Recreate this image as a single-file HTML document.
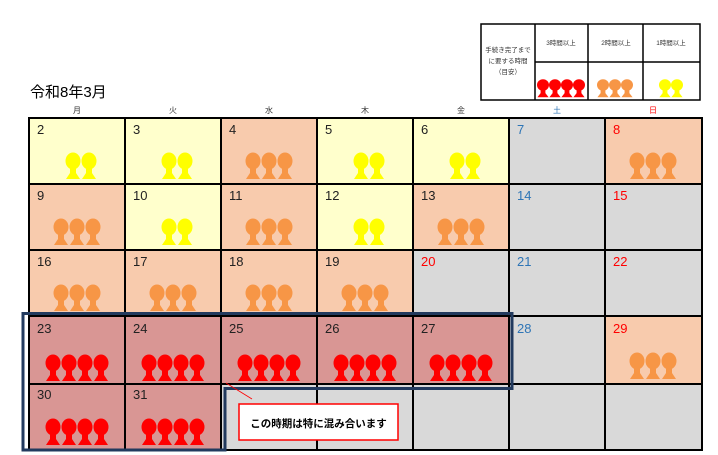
<!DOCTYPE html>
<html><head><meta charset="utf-8"><style>
html,body{margin:0;padding:0;background:#fff;}
svg{display:block;}
text{font-family:"Liberation Sans","Noto Sans CJK JP",sans-serif;}
</style></head><body>
<svg width="718" height="455" viewBox="0 0 718 455" xmlns="http://www.w3.org/2000/svg">
<defs>
<g id="p"><ellipse cx="0" cy="0" rx="7.5" ry="8.5"/><path d="M-3,6 L3,6 L3,12 L7,18 L-7,18 L-3,12 Z"/></g>
<g id="q" transform="scale(0.8,0.68)"><ellipse cx="0" cy="0" rx="7.5" ry="8.5"/><path d="M-3,6 L3,6 L3,12 L7,18 L-7,18 L-3,12 Z"/></g>
</defs>
<!-- legend -->
<g stroke="#000" stroke-width="1.5" fill="#fff">
<rect x="481" y="24" width="219" height="76"/>
<line x1="535" y1="24" x2="535" y2="100"/><line x1="588" y1="24" x2="588" y2="100"/><line x1="643" y1="24" x2="643" y2="100"/>
<line x1="535" y1="62" x2="700" y2="62"/>
</g>
<g font-size="6.5" fill="#333" text-anchor="middle">
<text x="508" y="52">手続き完了まで</text><text x="508" y="63">に要する時間</text><text x="508" y="74">（目安）</text>
<text x="561" y="45">3時間以上</text><text x="616" y="45">2時間以上</text><text x="671" y="45">1時間以上</text>
</g>
<g fill="#ff0000"><use href="#q" x="543" y="85"/><use href="#q" x="555" y="85"/><use href="#q" x="567" y="85"/><use href="#q" x="579" y="85"/></g>
<g fill="#f79646"><use href="#q" x="603" y="85"/><use href="#q" x="615" y="85"/><use href="#q" x="627" y="85"/></g>
<g fill="#ffff00"><use href="#q" x="665" y="85"/><use href="#q" x="677" y="85"/></g>

<text x="30" y="97" font-size="15" fill="#000">令和8年3月</text>
<g font-size="8" text-anchor="middle" fill="#333">
<text x="77" y="113">月</text><text x="173" y="113">火</text><text x="269" y="113">水</text><text x="365" y="113">木</text><text x="461" y="113">金</text><text x="557" y="113" fill="#2e75b6">土</text><text x="653" y="113" fill="#ff0000">日</text>
</g>

<g stroke="#000" stroke-width="2">
<rect x="29" y="118" width="96" height="66" fill="#ffffcc"/>
<rect x="125" y="118" width="96" height="66" fill="#ffffcc"/>
<rect x="221" y="118" width="96" height="66" fill="#f8cbad"/>
<rect x="317" y="118" width="96" height="66" fill="#ffffcc"/>
<rect x="413" y="118" width="96" height="66" fill="#ffffcc"/>
<rect x="509" y="118" width="96" height="66" fill="#d9d9d9"/>
<rect x="605" y="118" width="97" height="66" fill="#f8cbad"/>
<rect x="29" y="184" width="96" height="66" fill="#f8cbad"/>
<rect x="125" y="184" width="96" height="66" fill="#ffffcc"/>
<rect x="221" y="184" width="96" height="66" fill="#f8cbad"/>
<rect x="317" y="184" width="96" height="66" fill="#ffffcc"/>
<rect x="413" y="184" width="96" height="66" fill="#f8cbad"/>
<rect x="509" y="184" width="96" height="66" fill="#d9d9d9"/>
<rect x="605" y="184" width="97" height="66" fill="#d9d9d9"/>
<rect x="29" y="250" width="96" height="66" fill="#f8cbad"/>
<rect x="125" y="250" width="96" height="66" fill="#f8cbad"/>
<rect x="221" y="250" width="96" height="66" fill="#f8cbad"/>
<rect x="317" y="250" width="96" height="66" fill="#f8cbad"/>
<rect x="413" y="250" width="96" height="66" fill="#d9d9d9"/>
<rect x="509" y="250" width="96" height="66" fill="#d9d9d9"/>
<rect x="605" y="250" width="97" height="66" fill="#d9d9d9"/>
<rect x="29" y="316" width="96" height="68" fill="#d99694"/>
<rect x="125" y="316" width="96" height="68" fill="#d99694"/>
<rect x="221" y="316" width="96" height="68" fill="#d99694"/>
<rect x="317" y="316" width="96" height="68" fill="#d99694"/>
<rect x="413" y="316" width="96" height="68" fill="#d99694"/>
<rect x="509" y="316" width="96" height="68" fill="#d9d9d9"/>
<rect x="605" y="316" width="97" height="68" fill="#f8cbad"/>
<rect x="29" y="384" width="96" height="66" fill="#d99694"/>
<rect x="125" y="384" width="96" height="66" fill="#d99694"/>
<rect x="221" y="384" width="96" height="66" fill="#d9d9d9"/>
<rect x="317" y="384" width="96" height="66" fill="#d9d9d9"/>
<rect x="413" y="384" width="96" height="66" fill="#d9d9d9"/>
<rect x="509" y="384" width="96" height="66" fill="#d9d9d9"/>
<rect x="605" y="384" width="97" height="66" fill="#d9d9d9"/>
</g>

<g font-size="13" fill="#222">
<text x="37" y="134">2</text><text x="133" y="134">3</text><text x="229" y="134">4</text><text x="325" y="134">5</text><text x="421" y="134">6</text><text x="517" y="134" fill="#2e75b6">7</text><text x="613" y="134" fill="#ff0000">8</text>
<text x="37" y="200">9</text><text x="133" y="200">10</text><text x="229" y="200">11</text><text x="325" y="200">12</text><text x="421" y="200">13</text><text x="517" y="200" fill="#2e75b6">14</text><text x="613" y="200" fill="#ff0000">15</text>
<text x="37" y="266">16</text><text x="133" y="266">17</text><text x="229" y="266">18</text><text x="325" y="266">19</text><text x="421" y="266" fill="#ff0000">20</text><text x="517" y="266" fill="#2e75b6">21</text><text x="613" y="266" fill="#ff0000">22</text>
<text x="37" y="333">23</text><text x="133" y="333">24</text><text x="229" y="333">25</text><text x="325" y="333">26</text><text x="421" y="333">27</text><text x="517" y="333" fill="#2e75b6">28</text><text x="613" y="333" fill="#ff0000">29</text>
<text x="37" y="399">30</text><text x="133" y="399">31</text>
</g>

<g fill="#ffff00">
<use href="#p" x="73" y="161"/><use href="#p" x="89" y="161"/>
<use href="#p" x="169" y="161"/><use href="#p" x="185" y="161"/>
<use href="#p" x="361" y="161"/><use href="#p" x="377" y="161"/>
<use href="#p" x="457" y="161"/><use href="#p" x="473" y="161"/>
<use href="#p" x="169" y="227"/><use href="#p" x="185" y="227"/>
<use href="#p" x="361" y="227"/><use href="#p" x="377" y="227"/>
</g>
<g fill="#f79646">
<use href="#p" x="253" y="161"/><use href="#p" x="269" y="161"/><use href="#p" x="285" y="161"/>
<use href="#p" x="637" y="161"/><use href="#p" x="653" y="161"/><use href="#p" x="669" y="161"/>
<use href="#p" x="61" y="227"/><use href="#p" x="77" y="227"/><use href="#p" x="93" y="227"/>
<use href="#p" x="253" y="227"/><use href="#p" x="269" y="227"/><use href="#p" x="285" y="227"/>
<use href="#p" x="445" y="227"/><use href="#p" x="461" y="227"/><use href="#p" x="477" y="227"/>
<use href="#p" x="61" y="293"/><use href="#p" x="77" y="293"/><use href="#p" x="93" y="293"/>
<use href="#p" x="157" y="293"/><use href="#p" x="173" y="293"/><use href="#p" x="189" y="293"/>
<use href="#p" x="253" y="293"/><use href="#p" x="269" y="293"/><use href="#p" x="285" y="293"/>
<use href="#p" x="349" y="293"/><use href="#p" x="365" y="293"/><use href="#p" x="381" y="293"/>
<use href="#p" x="637" y="361"/><use href="#p" x="653" y="361"/><use href="#p" x="669" y="361"/>
</g>
<g fill="#ff0000">
<use href="#p" x="53" y="363"/><use href="#p" x="69" y="363"/><use href="#p" x="85" y="363"/><use href="#p" x="101" y="363"/>
<use href="#p" x="149" y="363"/><use href="#p" x="165" y="363"/><use href="#p" x="181" y="363"/><use href="#p" x="197" y="363"/>
<use href="#p" x="245" y="363"/><use href="#p" x="261" y="363"/><use href="#p" x="277" y="363"/><use href="#p" x="293" y="363"/>
<use href="#p" x="341" y="363"/><use href="#p" x="357" y="363"/><use href="#p" x="373" y="363"/><use href="#p" x="389" y="363"/>
<use href="#p" x="437" y="363"/><use href="#p" x="453" y="363"/><use href="#p" x="469" y="363"/><use href="#p" x="485" y="363"/>
<use href="#p" x="53" y="427"/><use href="#p" x="69" y="427"/><use href="#p" x="85" y="427"/><use href="#p" x="101" y="427"/>
<use href="#p" x="149" y="427"/><use href="#p" x="165" y="427"/><use href="#p" x="181" y="427"/><use href="#p" x="197" y="427"/>
</g>

<path d="M23,313.5 L512,313.5 L512,388.5 L225,388.5 L225,450 L23,450 Z" fill="none" stroke="#223a5e" stroke-width="3"/>
<line x1="226" y1="383" x2="252" y2="399" stroke="#ff0000" stroke-width="0.8"/>
<rect x="239" y="404" width="159" height="36" fill="#fff" stroke="#ff0000" stroke-width="1.5"/>
<text x="318.5" y="427" font-size="10.5" font-weight="bold" text-anchor="middle" fill="#000">この時期は特に混み合います</text>
</svg>
</body></html>
